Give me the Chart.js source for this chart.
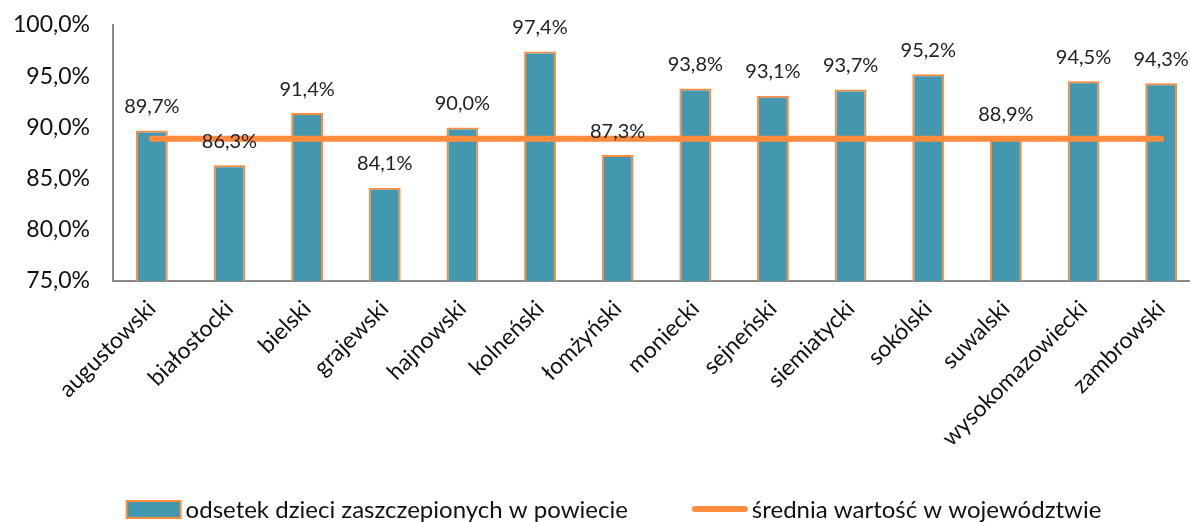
<!DOCTYPE html>
<html>
<head>
<meta charset="utf-8">
<script src="https://cdn.jsdelivr.net/npm/chart.js@4"></script>
<style>
  html, body { margin: 0; padding: 0; background: #fff; overflow: hidden; }
  #wrap { width: 1200px; height: 522px; }
</style>
</head>
<body>
<div id="wrap"><canvas id="chart" width="1200" height="522"></canvas></div>
<script>
const categories = ['augustowski', 'białostocki', 'bielski', 'grajewski', 'hajnowski', 'kolneński',
    'łomżyński', 'moniecki', 'sejneński', 'siemiatycki', 'sokólski', 'suwalski', 'wysokomazowiecki', 'zambrowski'];
const districtValues = [89.7, 86.3, 91.4, 84.1, 90.0, 97.4, 87.3, 93.8, 93.1, 93.7, 95.2, 88.9, 94.5, 94.3];
const voivodeshipAverage = [88.9, 88.9, 88.9, 88.9, 88.9, 88.9, 88.9, 88.9, 88.9, 88.9, 88.9, 88.9, 88.9, 88.9];
const yTicks = [75, 80, 85, 90, 95, 100];
const seriesNames = ['odsetek dzieci zaszczepionych w powiecie', 'średnia wartość w województwie'];

const TEAL = '#4398B0';
const ORANGE = '#FF8B3D';
const FONT = 'Lato';

const fmt = v => v.toFixed(1).replace('.', ',') + '%';

// value labels above the bars
const barLabels = {
    id: 'barLabels',
    afterDatasetsDraw(chart) {
        const ctx = chart.ctx;
        const meta = chart.getDatasetMeta(0);
        ctx.save();
        ctx.font = '20px ' + FONT;
        ctx.fillStyle = '#222';
        ctx.textAlign = 'center';
        ctx.textBaseline = 'middle';
        meta.data.forEach((bar, i) => {
            ctx.fillText(fmt(districtValues[i]), bar.x, bar.y - 24);
        });
        ctx.restore();
    }
};

// legend drawn by hand below the axis labels (bar swatch + line swatch)
const bottomLegend = {
    id: 'bottomLegend',
    afterDraw(chart) {
        const ctx = chart.ctx;
        ctx.save();
        ctx.font = '24px ' + FONT;
        const w1 = ctx.measureText(seriesNames[0]).width;
        const w2 = ctx.measureText(seriesNames[1]).width;
        const total = 54 + 5 + w1 + 64 + 56 + 4 + w2;
        let x = 614 - total / 2;
        const baseY = 518;

        ctx.fillStyle = TEAL;
        ctx.fillRect(x, 501, 54, 17);
        ctx.strokeStyle = ORANGE;
        ctx.lineWidth = 2;
        ctx.strokeRect(x, 501, 54, 17);
        x += 54 + 5;
        ctx.fillStyle = '#111';
        ctx.textBaseline = 'alphabetic';
        ctx.fillText(seriesNames[0], x, baseY);
        x += w1 + 64;

        ctx.beginPath();
        ctx.lineWidth = 6;
        ctx.lineCap = 'round';
        ctx.moveTo(x + 3, 509);
        ctx.lineTo(x + 53, 509);
        ctx.stroke();
        x += 56 + 4;
        ctx.fillText(seriesNames[1], x, baseY);
        ctx.restore();
    }
};

new Chart(document.getElementById('chart').getContext('2d'), {
    data: {
        labels: categories,
        datasets: [{
            type: 'bar',
            label: seriesNames[0],
            data: districtValues,
            backgroundColor: TEAL,
            borderColor: ORANGE,
            borderWidth: 2,
            barPercentage: 0.41,
            categoryPercentage: 1,
            order: 1
        }, {
            type: 'line',
            label: seriesNames[1],
            data: voivodeshipAverage,
            borderColor: ORANGE,
            backgroundColor: ORANGE,
            borderWidth: 6,
            borderCapStyle: 'round',
            pointRadius: 0,
            fill: false,
            order: 0
        }]
    },
    options: {
        responsive: false,
        animation: false,
        layout: { padding: { left: 0, top: 25, right: 0, bottom: 52 } },
        plugins: {
            tooltip: { enabled: false },
            legend: { display: false }
        },
        scales: {
            x: {
                grid: { display: false },
                border: { display: true, color: '#8a8a8a', width: 2 },
                ticks: {
                    color: '#111',
                    font: { family: FONT, size: 23 },
                    maxRotation: 45,
                    minRotation: 45,
                    padding: 6
                },
                afterFit: s => { s.height = 189; s.paddingLeft = 0; s.paddingRight = 0; }
            },
            y: {
                min: 75,
                max: 100,
                grid: { display: false },
                border: { display: true, color: '#8a8a8a', width: 2 },
                afterBuildTicks: s => { s.ticks = yTicks.map(v => ({ value: v })); },
                ticks: {
                    color: '#111',
                    font: { family: FONT, size: 23 },
                    padding: 15,
                    callback: v => fmt(v)
                },
                afterFit: s => { s.width = 113; s.paddingTop = 0; s.paddingBottom = 0; }
            }
        }
    },
    plugins: [barLabels, bottomLegend]
});
</script>
</body>
</html>
